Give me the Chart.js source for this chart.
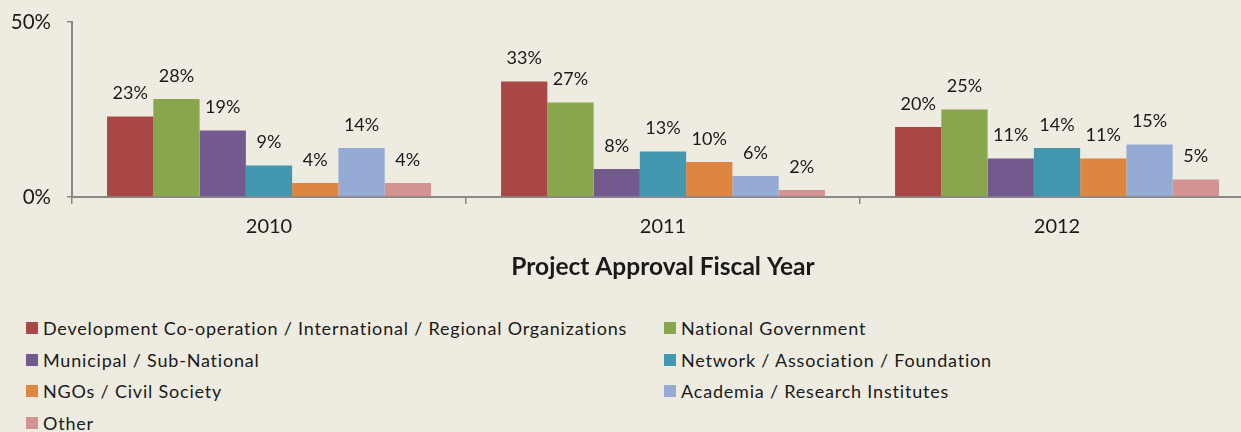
<!DOCTYPE html>
<html lang="en">
<head>
    <meta charset="UTF-8">
    <title>Project Approval Fiscal Year</title>
    <script src="https://cdn.jsdelivr.net/npm/chart.js"></script>
    <style>
        html, body {
            margin: 0;
            padding: 0;
            background: #EEEBE0;
            overflow: hidden;
            width: 1241px;
            height: 432px;
            font-family: Lato, "Noto Sans", sans-serif;
            color: #1a1a1a;
        }
        #wrap { position: relative; width: 1241px; height: 432px; }
        canvas { position: absolute; left: 0; top: 0; }
        #legend { position: absolute; left: 0; top: 312px; width: 1241px; }
        .item { position: absolute; height: 32px; line-height: 32px; font-size: 18px; letter-spacing: 0.8px; white-space: nowrap; }
        .box { position: absolute; width: 12px; height: 12px; top: 10px; left: 0; }
        .txt { position: absolute; left: 17px; top: 0; }
    </style>
</head>
<body>
<div id="wrap">
    <canvas id="chart" width="1254" height="300"></canvas>
    <div id="legend"></div>
</div>
<script>
const years = ['2010', '2011', '2012'];
const seriesNames = [
    'Development Co-operation / International / Regional Organizations',
    'National Government',
    'Municipal / Sub-National',
    'Network / Association / Foundation',
    'NGOs / Civil Society',
    'Academia / Research Institutes',
    'Other'
];
const seriesColors = ['#A84746', '#8AA64D', '#725A8F', '#4398B0', '#DE8540', '#95ABD3', '#D49393'];
// percent share per year, one array per category
const devCoop   = [23, 33, 20];
const natGov    = [28, 27, 25];
const municipal = [19, 8, 11];
const network   = [9, 13, 14];
const ngos      = [4, 10, 11];
const academia  = [14, 6, 15];
const other     = [4, 2, 5];
const seriesValues = [devCoop, natGov, municipal, network, ngos, academia, other];
const yTicks = [0, 50];

const FONT = 'Lato, "Noto Sans", sans-serif';
const axisGray = '#888888';

// value labels above each bar
const barLabels = {
    id: 'barLabels',
    afterDatasetsDraw(chart) {
        const ctx = chart.ctx;
        ctx.save();
        ctx.font = '18px ' + FONT;
        ctx.fillStyle = '#1a1a1a';
        ctx.textAlign = 'center';
        ctx.textBaseline = 'middle';
        chart.data.datasets.forEach((ds, i) => {
            chart.getDatasetMeta(i).data.forEach((bar, j) => {
                ctx.fillText(ds.data[j] + '%', bar.x, bar.y - 23);
            });
        });
        ctx.restore();
    }
};

new Chart(document.getElementById('chart'), {
    type: 'bar',
    data: {
        labels: years,
        datasets: seriesNames.map((name, i) => ({
            label: name,
            data: seriesValues[i],
            backgroundColor: seriesColors[i],
            borderWidth: 0,
            categoryPercentage: 0.822,
            barPercentage: 1.0
        }))
    },
    options: {
        responsive: false,
        animation: false,
        devicePixelRatio: 1,
        layout: { padding: { top: 22, left: 0, right: 0, bottom: 0 } },
        plugins: {
            legend: { display: false },
            tooltip: { enabled: false }
        },
        scales: {
            x: {
                grid: { offset: true, drawOnChartArea: false, drawTicks: true, tickLength: 7, color: axisGray, lineWidth: 1.5 },
                border: { color: axisGray, width: 2 },
                ticks: { color: '#1a1a1a', font: { family: FONT, size: 20 }, padding: 11 },
                title: {
                    display: true,
                    text: 'Project Approval Fiscal Year',
                    color: '#1a1a1a',
                    font: { family: FONT, size: 24.5, weight: 'bold' },
                    padding: { top: 0, bottom: 18 }
                },
                afterFit(scale) { scale.height = 103; }
            },
            y: {
                min: 0,
                max: 50,
                afterBuildTicks(scale) { scale.ticks = yTicks.map(v => ({ value: v })); },
                grid: { drawOnChartArea: false, drawTicks: true, tickLength: 5, color: axisGray, lineWidth: 1.5 },
                border: { color: axisGray, width: 2 },
                ticks: {
                    color: '#1a1a1a',
                    font: { family: FONT, size: 20.5 },
                    padding: 16,
                    callback: v => v + '%'
                },
                afterFit(scale) {
                    scale.width = 72;
                    scale.paddingTop = 0;
                    scale.paddingBottom = 0;
                }
            }
        }
    },
    plugins: [barLabels]
});

// two-column legend built from the series arrays
const legend = document.getElementById('legend');
seriesNames.forEach((name, i) => {
    const item = document.createElement('div');
    item.className = 'item';
    item.style.left = (i % 2 === 0 ? 26 : 664) + 'px';
    item.style.top = (Math.floor(i / 2) * 31.7) + 'px';
    const box = document.createElement('span');
    box.className = 'box';
    box.style.background = seriesColors[i];
    const txt = document.createElement('span');
    txt.className = 'txt';
    txt.textContent = name;
    item.appendChild(box);
    item.appendChild(txt);
    legend.appendChild(item);
});
</script>
</body>
</html>
